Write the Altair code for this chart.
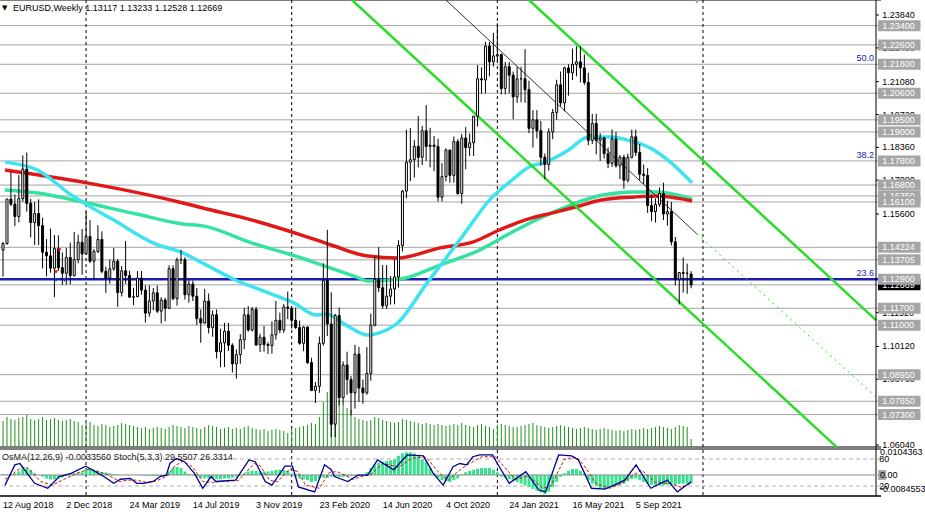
import altair as alt
import pandas as pd

FONT = "Liberation Sans"

# ---------------- weekly EURUSD candles (index 0 = week of 12 Aug 2018) ----------------
opens = [1.1411,1.1438,1.1622,1.1601,1.1550,1.1624,1.1746,1.1604,1.1525,1.1562,
         1.1512,1.1402,1.1387,1.1336,1.1417,1.1338,1.1315,1.1380,1.1305,1.1371,
         1.1443,1.1395,1.1467,1.1365,1.1405,1.1455,1.1323,1.1295,1.1333,1.1365,
         1.1235,1.1325,1.1305,1.1216,1.1218,1.1295,1.1245,1.1150,1.1200,1.1234,
         1.1158,1.1204,1.1170,1.1334,1.1210,1.1370,1.1371,1.1226,1.1270,1.1220,
         1.1127,1.1109,1.1200,1.1090,1.1143,1.0990,1.1027,1.1075,1.1017,1.0940,
         1.0978,1.1040,1.1143,1.1080,1.1165,1.1018,1.1050,1.1020,1.1016,1.1060,
         1.1120,1.1080,1.1175,1.1170,1.1120,1.1090,1.1025,1.1092,1.0945,1.0830,
         1.0847,1.1025,1.1285,1.1105,1.0690,1.1140,1.0800,1.0935,1.0875,1.0820,
         1.0980,1.0840,1.0820,1.0900,1.1100,1.1290,1.1255,1.1180,1.1220,1.1250,
         1.1300,1.1430,1.1655,1.1775,1.1785,1.1840,1.1795,1.1905,1.1840,1.1845,
         1.1840,1.1630,1.1715,1.1825,1.1720,1.1860,1.1645,1.1875,1.1835,1.1855,
         1.1965,1.2120,1.2115,1.2255,1.2190,1.2215,1.2220,1.2080,1.2170,1.2135,
         1.2045,1.2120,1.2120,1.2075,1.1915,1.1950,1.1905,1.1795,1.1765,1.1900,
         1.1980,1.2095,1.2020,1.2165,1.2145,1.2180,1.2190,1.2165,1.2105,1.1865,
         1.1935,1.1865,1.1875,1.1810,1.1770,1.1870,1.1760,1.1795,1.1700,1.1795,
         1.1880,1.1815,1.1725,1.1720,1.1595,1.1570,1.1600,1.1645,1.1560,1.1570,
         1.1445,1.1290,1.1318,1.1315,1.13117]
highs = [1.1444,1.1623,1.1734,1.1641,1.1721,1.1803,1.1815,1.1623,1.1610,1.1621,
         1.1545,1.1456,1.1500,1.1473,1.1472,1.1401,1.1420,1.1442,1.1486,1.1474,
         1.1498,1.1570,1.1535,1.1415,1.1514,1.1488,1.1342,1.1372,1.1420,1.1374,
         1.1345,1.1448,1.1325,1.1255,1.1324,1.1324,1.1265,1.1265,1.1254,1.1264,
         1.1216,1.1213,1.1348,1.1348,1.1380,1.1412,1.1381,1.1286,1.1285,1.1254,
         1.1165,1.1250,1.1231,1.1161,1.1165,1.1085,1.1110,1.1109,1.1025,1.1000,
         1.1063,1.1172,1.1179,1.1175,1.1176,1.1064,1.1097,1.1030,1.1116,1.1200,
         1.1152,1.1188,1.1239,1.1173,1.1173,1.1119,1.1096,1.1095,1.0965,1.0865,
         1.1053,1.1356,1.1495,1.1236,1.1147,1.1173,1.0950,1.0990,1.0889,1.1019,
         1.1010,1.0875,1.1009,1.1147,1.1384,1.1423,1.1349,1.1349,1.1303,1.1372,
         1.1452,1.1660,1.1909,1.1916,1.1866,1.1966,1.1925,1.2011,1.1917,1.1883,
         1.1872,1.1771,1.1832,1.1827,1.1881,1.1870,1.1892,1.1920,1.1894,1.1965,
         1.2177,1.2167,1.2273,1.2272,1.2310,1.2350,1.2225,1.2190,1.2190,1.2150,
         1.2170,1.2170,1.2243,1.2112,1.1990,1.1990,1.1945,1.1810,1.1915,1.1995,
         1.2116,1.2150,1.2170,1.2180,1.2245,1.2255,1.2255,1.2220,1.2145,1.1975,
         1.1975,1.1895,1.1880,1.1835,1.1910,1.1900,1.1805,1.1805,1.1810,1.1910,
         1.1910,1.1850,1.1765,1.1750,1.1640,1.1625,1.1670,1.1690,1.1615,1.1610,
         1.1465,1.1320,1.1380,1.1355,1.13233]
lows = [1.1301,1.1433,1.1593,1.1510,1.1526,1.1611,1.1570,1.1463,1.1432,1.1432,
        1.1335,1.1302,1.1317,1.1216,1.1325,1.1267,1.1268,1.1269,1.1302,1.1356,
        1.1309,1.1392,1.1357,1.1290,1.1398,1.1315,1.1234,1.1272,1.1325,1.1176,
        1.1219,1.1271,1.1213,1.1183,1.1216,1.1226,1.1111,1.1135,1.1162,1.1150,
        1.1107,1.1116,1.1167,1.1203,1.1181,1.1353,1.1206,1.1193,1.1200,1.1101,
        1.1027,1.1106,1.1066,1.1052,1.0962,1.0926,1.0927,1.0993,1.0904,1.0879,
        1.0940,1.1001,1.1073,1.1074,1.1014,1.0989,1.0990,1.0981,1.0982,1.1040,
        1.1067,1.1068,1.1125,1.1086,1.1085,1.1019,1.0992,1.0940,1.0827,1.0778,
        1.0820,1.1015,1.1055,1.0636,1.0637,1.0768,1.0770,1.0812,1.0727,1.0755,
        1.0782,1.0775,1.0812,1.0870,1.1095,1.1237,1.1168,1.1167,1.1185,1.1186,
        1.1255,1.1405,1.1625,1.1696,1.1711,1.1753,1.1763,1.1780,1.1753,1.1737,
        1.1612,1.1612,1.1695,1.1689,1.1690,1.1640,1.1603,1.1746,1.1800,1.1800,
        1.1922,1.2058,1.2060,1.2130,1.2170,1.2190,1.2055,1.2055,1.2060,1.1952,
        1.2020,1.2023,1.2020,1.1895,1.1835,1.1873,1.1760,1.1704,1.1740,1.1870,
        1.1950,1.2005,1.1985,1.2050,1.2115,1.2130,1.2105,1.2095,1.1845,1.1850,
        1.1807,1.1780,1.1790,1.1750,1.1755,1.1752,1.1705,1.1665,1.1690,1.1790,
        1.1800,1.1700,1.1685,1.1565,1.1530,1.1525,1.1590,1.1535,1.1512,1.1430,
        1.1265,1.1186,1.1235,1.1230,1.12528]
closes = [1.1438,1.1622,1.1601,1.1550,1.1624,1.1746,1.1604,1.1525,1.1562,1.1512,
          1.1402,1.1387,1.1336,1.1417,1.1338,1.1315,1.1380,1.1305,1.1371,1.1443,
          1.1395,1.1467,1.1365,1.1405,1.1455,1.1323,1.1295,1.1333,1.1365,1.1235,
          1.1325,1.1305,1.1216,1.1218,1.1295,1.1245,1.1150,1.1200,1.1234,1.1158,
          1.1204,1.1170,1.1334,1.1210,1.1370,1.1371,1.1226,1.1270,1.1220,1.1127,
          1.1109,1.1200,1.1090,1.1143,1.0990,1.1027,1.1075,1.1017,1.0940,1.0978,
          1.1040,1.1143,1.1080,1.1165,1.1018,1.1050,1.1020,1.1016,1.1060,1.1120,
          1.1080,1.1175,1.1170,1.1120,1.1090,1.1025,1.1092,1.0945,1.0830,1.0847,
          1.1025,1.1285,1.1105,1.0690,1.1140,1.0800,1.0935,1.0875,1.0820,1.0980,
          1.0840,1.0820,1.0900,1.1100,1.1290,1.1255,1.1180,1.1220,1.1250,1.1300,
          1.1430,1.1655,1.1775,1.1785,1.1840,1.1795,1.1905,1.1840,1.1845,1.1840,
          1.1630,1.1715,1.1825,1.1720,1.1860,1.1645,1.1875,1.1835,1.1855,1.1965,
          1.2120,1.2115,1.2255,1.2190,1.2215,1.2220,1.2080,1.2170,1.2135,1.2045,
          1.2120,1.2120,1.2075,1.1915,1.1950,1.1905,1.1795,1.1765,1.1900,1.1980,
          1.2095,1.2020,1.2165,1.2145,1.2180,1.2190,1.2165,1.2105,1.1865,1.1935,
          1.1865,1.1875,1.1810,1.1770,1.1870,1.1760,1.1795,1.1700,1.1795,1.1880,
          1.1815,1.1725,1.1720,1.1595,1.1570,1.1600,1.1645,1.1560,1.1570,1.1445,
          1.1290,1.1318,1.1315,1.1315,1.12669]
volumes = [260,300,280,270,290,300,320,280,270,280,300,270,280,290,270,260,270,280,260,250,220,
           240,250,220,210,230,220,200,210,220,240,230,220,210,200,190,200,180,190,200,190,
           180,200,220,210,200,190,210,200,190,180,200,220,210,200,180,190,200,180,190,180,
           200,210,190,180,170,180,160,170,180,170,160,140,
           180,190,200,210,220,240,230,300,450,
           550,520,520,470,420,390,370,
           300,280,270,260,270,300,290,270,260,250,240,250,
           280,270,260,250,240,230,240,230,220,230,220,210,220,230,220,240,220,210,200,220,230,210,200,180,
           220,230,220,210,200,200,210,220,230,240,220,210,200,190,200,210,220,210,200,190,
           180,190,200,190,180,170,180,190,180,170,160,170,160,170,180,170,180,190,180,190,
           200,210,200,190,180,200,220,210,200,80]
# OsMA(12,26,9) histogram, in units of 0.0001
osma = [3,3,3,6,14,24,28,21,7,0,
        -7,-14,-18,-18,-14,-10,-4,3,6,8,
        11,25,28,21,17,11,10,7,4,3,
        0,1,-1,0,1,-2,-4,-4,-4,-4,
        -4,-2,14,28,32,28,14,4,-3,-7,
        -11,-14,-14,-14,-17,-17,-14,-14,-11,-7,
        -2,4,14,17,17,14,14,14,17,20,
        21,21,17,6,-7,-14,-17,-21,-28,-25,
        -14,-11,-11,-7,-7,-8,-8,-6,-4,-3,
        -3,-1,11,28,42,49,53,56,59,63,
        77,87,91,91,87,77,63,53,28,7,
        -11,-21,-25,-28,-21,-14,4,11,17,21,
        25,28,28,28,21,11,-7,-11,-17,-21,
        -28,-35,-42,-49,-56,-63,-70,-77,-67,-49,
        -28,-7,7,17,24,24,17,7,-21,-35,
        -45,-53,-56,-53,-49,-45,-39,-35,-25,-17,
        -14,-21,-28,-35,-39,-42,-42,-42,-39,-38,
        -38,-36,-35,-34,-34]
week = list(range(len(closes)))

# Stochastic(5,3,3) main and signal lines (week index, value)
stoch_idx = [0.5,3,4.25,8,11.3,14.25,17.2,20.9,25.5,28,29.7,32.2,33.8,35.5,38,39.7,41.3,42.2,43.8,45.9,
             48.4,50.5,52.6,53.8,58.8,62.2,63.8,66.3,68,71.3,73.2,74.7,78.8,81.3,83,83.8,87.2,89.7,92.2,94.7,
             98.8,102.2,106.3,108.8,111.3,113.8,115.5,117.2,118.8,120.5,123.8,125,128,132.2,135.5,137.2,140.5,
             143.8,145.5,148.8,152.2,155.5,157.2,160.1,163.8,168,170.5,174]
stoch_val = [22,67,70,26,15,41,48,64,41,26,35,37,26,26,30,41,44,70,81,74,
             48,15,41,30,33,78,74,30,22,64,64,18,7,67,56,41,30,44,44,78,
             56,89,87,48,22,63,70,67,85,89,89,70,26,52,11,7,89,
             87,78,15,13,26,33,67,15,33,7,29.55]
signal_idx = [0.5,4.5,6,9.5,12.5,15.5,18.5,22,26.5,29.5,31.5,33.5,36.5,39,41.5,43.5,45.5,48,50.5,53,55,
              59.5,63.5,65,67.5,69.5,72.5,74.5,76.5,80,82.5,84.5,88.5,91,93,96,100,103.5,107,110,112.5,
              115,117,121,124.5,126.5,129.5,133,136.5,138.5,142,145,147,150,153.5,157,158.5,161.5,165,
              169,171.5,174]
signal_val = [35,60,62,30,22,35,48,58,45,30,33,33,28,32,42,65,75,62,30,28,30,
              32,70,65,32,30,58,52,22,15,50,52,35,42,45,70,62,82,84,52,32,
              52,65,85,85,65,35,42,15,20,80,84,65,25,15,28,40,55,28,
              25,17,26.33]

# moving averages (week index, price)
ma_red_idx = [0.5,21.25,45.5,50.5,63,75.5,83,92.25,99.75,110.5,118.75,125.5,130.5,133.75,138.75,144.75,151.25,159.75,165.5,170.5,174.25]
ma_red_val = [1.1742,1.1689,1.1606,1.1585,1.1535,1.1473,1.1432,1.1386,1.1378,1.1420,1.1444,1.1494,1.1527,1.1544,1.1564,1.1589,1.1618,1.1631,1.1635,1.1626,1.1614]
ma_teal_idx = [0.5,8.75,21.25,33.75,45.5,50.5,63,75.5,79.25,89.25,92.25,100.5,110.5,120.5,129.75,140.5,150.5,159.75,165.5,170.5,174.25]
ma_teal_val = [1.1660,1.1647,1.1606,1.1560,1.1519,1.1511,1.1440,1.1378,1.1357,1.1300,1.1283,1.1291,1.1349,1.1411,1.1494,1.1577,1.1635,1.1651,1.1651,1.1639,1.1622]
ma_cyan_idx = [0.5,8.75,17.25,21.25,28,38,45.5,50.5,58.75,67.25,73.5,79.25,81.75,86.75,92.25,95.5,99.75,107.25,115.5,123.75,128.75,133,137.25,143,148,153,159.75,163.75,168.75,174.25]
ma_cyan_val = [1.1775,1.1742,1.1639,1.1598,1.1535,1.1440,1.1399,1.1357,1.1287,1.1233,1.1192,1.1142,1.1146,1.1100,1.1059,1.1070,1.1109,1.1275,1.1453,1.1631,1.1701,1.1755,1.1775,1.1825,1.1879,1.1879,1.1858,1.1833,1.1775,1.1689]

# descending channel and trend line (endpoints)
chan_idx = [133, 220.75, 88.25, 210.75]
chan_val = [1.2446, 1.1121, 1.2446, 1.0596]
chan_grp = ["upper", "upper", "lower", "lower"]
trend_idx = [112.0, 175.5]
trend_val = [1.2446, 1.1477]
trend_ext_idx = [175.5, 220.75]
trend_ext_val = [1.1477, 1.0803]

# horizontal levels
level_prices = [1.2340,1.2260,1.2180,1.2060,1.1950,1.1900,1.1780,1.1680,1.1635,1.1610,1.14224,1.13705,1.1170,1.1100,1.0895,1.0785,1.0730]
box_prices = [1.2340,1.2260,1.2180,1.2060,1.1950,1.1900,1.1780,1.1680,1.1635,1.1610,1.14224,1.13705,1.1290,1.1170,1.1100,1.0895,1.0785,1.0730]
box_labels = ["1.23400","1.22600","1.21800","1.20600","1.19500","1.19000","1.17800","1.16800","1.16350","1.16100","1.14224","1.13705","1.12900","1.11700","1.11000","1.08950","1.07850","1.07300"]
key_level = [1.1290]
bid_price = [1.12669]
fib_prices = [1.2180, 1.1780, 1.1290]
fib_labels = ["50.0", "38.2", "23.6"]
axis_prices = [1.2384,1.2248,1.2108,1.1972,1.1836,1.1700,1.1560,1.1152,1.1012,1.0876,1.0604]
axis_labels = ["1.23840","1.22480","1.21080","1.19720","1.18360","1.17000","1.15600","1.11520","1.10120","1.08760","1.06040"]

date_idx = [0,16,32,48,64,80,96,112,128,144,160]
date_labels = ["12 Aug 2018","2 Dec 2018","24 Mar 2019","14 Jul 2019","3 Nov 2019","23 Feb 2020",
               "14 Jun 2020","4 Oct 2020","24 Jan 2021","16 May 2021","5 Sep 2021"]
year_sep_idx = [21, 73, 125, 177]

marker_idx = [14.25, 13.4, 13.4, 15.5]
marker_val = [1.1411, 1.1320, 1.1287, 1.1287]
marker_col = ["#e01010", "#e01010", "#1030d0", "#1030d0"]

# ---------------- scales ----------------
X_DOM = [0.5, 220.75]
P_DOM = [1.05957, 1.24461]
xs = alt.Scale(domain=X_DOM, nice=False, zero=False)
ps = alt.Scale(domain=P_DOM, range=[447, 0], nice=False, zero=False)
vs = alt.Scale(domain=[0, 4470], range=[447, 0], nice=False, zero=False)
ss = alt.Scale(domain=[-2.2, 102.2], range=[496, 449], nice=False, zero=False)
osc = alt.Scale(domain=[-84.55, 104.36], range=[496, 449], nice=False, zero=False)


def X(field):
    return alt.X(field, type="quantitative", scale=xs, axis=None)


def XD(v):
    return alt.XDatum(v, type="quantitative", scale=xs, axis=None)


def PY(field):
    return alt.Y(field, type="quantitative", scale=ps, axis=None)


def PD(v):
    return alt.YDatum(v, type="quantitative", scale=ps, axis=None)


one = pd.DataFrame({"a": [0]})
df = pd.DataFrame({"i": week, "o": opens, "h": highs, "l": lows, "c": closes,
                   "v": volumes, "osma": osma})
df["fillc"] = ["white" if c >= o else "black" for o, c in zip(opens, closes)]

layers = []

# frame pieces
layers.append(alt.Chart(one).mark_rule(color="black", strokeWidth=1).encode(y=PD(P_DOM[1])))
layers.append(alt.Chart(one).mark_rule(color="black", strokeWidth=1).encode(y=PD(P_DOM[0])))

# horizontal level lines
lv = pd.DataFrame({"p": level_prices})
layers.append(alt.Chart(lv).mark_rule(color="#a4a4a4", strokeWidth=1).encode(y=PY("p")))
layers.append(alt.Chart(pd.DataFrame({"p": bid_price})).mark_rule(color="#a4a4a4", strokeWidth=1).encode(y=PY("p")))

# year separators (span both panels)
layers.append(alt.Chart(pd.DataFrame({"i": year_sep_idx})).mark_rule(
    color="black", strokeWidth=1, strokeDash=[3, 3]).encode(x=X("i")))

# volumes
layers.append(alt.Chart(df).mark_rule(color="#1f8f1f", strokeWidth=1, clip=True).encode(
    x=X("i"), y=alt.Y("v:Q", scale=vs, axis=None), y2=alt.datum(0)))

# key blue level
layers.append(alt.Chart(pd.DataFrame({"p": key_level})).mark_rule(color="#1c1cb0", strokeWidth=2.5).encode(y=PY("p")))

# moving averages
for idx, val, col in [(ma_teal_idx, ma_teal_val, "#35e3a0"), (ma_red_idx, ma_red_val, "#e01818"),
                      (ma_cyan_idx, ma_cyan_val, "#3fe3f0")]:
    layers.append(alt.Chart(pd.DataFrame({"i": idx, "p": val})).mark_line(
        color=col, strokeWidth=3.5, interpolate="monotone", clip=True).encode(x=X("i"), y=PY("p")))

# channel
layers.append(alt.Chart(pd.DataFrame({"i": chan_idx, "p": chan_val, "g": chan_grp})).mark_line(
    color="#2bdc2b", strokeWidth=2.5, clip=True).encode(x=X("i"), y=PY("p"), detail="g:N"))
layers.append(alt.Chart(pd.DataFrame({"i": trend_idx, "p": trend_val})).mark_line(
    color="black", strokeWidth=0.8, clip=True).encode(x=X("i"), y=PY("p")))
layers.append(alt.Chart(pd.DataFrame({"i": trend_ext_idx, "p": trend_ext_val})).mark_line(
    color="#2bdc2b", strokeWidth=1, strokeDash=[2, 4], clip=True).encode(x=X("i"), y=PY("p")))

# candles
layers.append(alt.Chart(df).mark_rule(color="black", strokeWidth=1, clip=True).encode(
    x=X("i"), y=PY("l"), y2="h:Q"))
layers.append(alt.Chart(df).mark_bar(size=2, stroke="black", strokeWidth=1, clip=True).encode(
    x=X("i"), y=PY("o"), y2="c:Q", fill=alt.Fill("fillc:N", scale=None)))

# trade markers
layers.append(alt.Chart(pd.DataFrame({"i": marker_idx, "p": marker_val, "c": marker_col})).mark_point(
    shape="triangle-down", filled=True, size=18, opacity=1).encode(
    x=X("i"), y=PY("p"), color=alt.Color("c:N", scale=None)))

# fib labels
layers.append(alt.Chart(pd.DataFrame({"p": fib_prices, "t": fib_labels})).mark_text(
    align="right", baseline="bottom", dy=-1, font=FONT, fontSize=9, color="#2020c0").encode(
    x=XD(220.25), y=PY("p"), text="t:N"))

# right price axis: line, ticks, labels
layers.append(alt.Chart(one).mark_rule(color="black", strokeWidth=1).encode(x=XD(X_DOM[1])))
ax = pd.DataFrame({"p": axis_prices, "t": axis_labels})
layers.append(alt.Chart(ax).mark_rule(color="black", strokeWidth=1).encode(
    x=XD(X_DOM[1]), x2=alt.datum(221.5), y=PY("p")))
layers.append(alt.Chart(ax).mark_text(align="left", baseline="middle", font=FONT, fontSize=9,
                                      color="black").encode(x=XD(222.3), y=PY("p"), text="t:N"))
# current price box
layers.append(alt.Chart(pd.DataFrame({"p": bid_price})).mark_rect(
    color="black", yOffset=-5.5, y2Offset=5.5).encode(
    x=XD(221.25), x2=alt.datum(232), y=PY("p"), y2="p:Q"))
layers.append(alt.Chart(pd.DataFrame({"p": bid_price, "t": ["1.12669"]})).mark_text(
    align="left", baseline="middle", font=FONT, fontSize=9, color="white").encode(
    x=XD(222.3), y=PY("p"), text="t:N"))
# grey level boxes, drawn one by one from the top
for p, t in zip(box_prices, box_labels):
    d = pd.DataFrame({"p": [p], "t": [t]})
    layers.append(alt.Chart(d).mark_rect(color="#a6a6a6", yOffset=-5.5, y2Offset=5.5).encode(
        x=XD(221.25), x2=alt.datum(232), y=PY("p"), y2="p:Q"))
    layers.append(alt.Chart(d).mark_text(align="left", baseline="middle", font=FONT, fontSize=9,
                                         color="white").encode(x=XD(222.3), y=PY("p"), text="t:N"))

# title
layers.append(alt.Chart(one).mark_text(align="left", baseline="middle", font="DejaVu Sans", fontSize=7,
                                       color="black").encode(x=alt.value(2), y=alt.value(8), text=alt.value("▼")))
layers.append(alt.Chart(one).mark_text(align="left", baseline="middle", font=FONT, fontSize=9,
                                       color="black").encode(
    x=alt.value(13), y=alt.value(8), text=alt.value("EURUSD,Weekly  1.13117 1.13233 1.12528 1.12669")))
layers.append(alt.Chart(one).mark_point(shape="triangle-down", filled=True, size=30, color="#a0a0a0",
                                        opacity=1).encode(x=XD(175.5), y=PD(1.2440)))

# ---------------- lower panel: OsMA + Stochastic ----------------
layers.append(alt.Chart(one).mark_rule(color="black", strokeWidth=1).encode(
    y=alt.YDatum(102.2, type="quantitative", scale=ss, axis=None)))
layers.append(alt.Chart(one).mark_rule(color="black", strokeWidth=1.5).encode(
    y=alt.YDatum(-2.2, type="quantitative", scale=ss, axis=None)))
lvl = pd.DataFrame({"s": [80, 20]})
layers.append(alt.Chart(lvl).mark_rule(color="#b0b0b0", strokeWidth=1, strokeDash=[4, 3]).encode(
    y=alt.Y("s:Q", scale=ss, axis=None)))
layers.append(alt.Chart(df).mark_bar(size=3, color="#34e48c", clip=True).encode(
    x=X("i"), y=alt.Y("osma:Q", scale=osc, axis=None), y2=alt.datum(0)))
layers.append(alt.Chart(one).mark_rule(color="#8c8c8c", strokeWidth=1).encode(
    y=alt.YDatum(0, type="quantitative", scale=osc, axis=None)))
layers.append(alt.Chart(pd.DataFrame({"i": signal_idx, "s": signal_val})).mark_line(
    color="#d01010", strokeWidth=1, strokeDash=[3, 2], clip=True).encode(
    x=X("i"), y=alt.Y("s:Q", scale=ss, axis=None)))
layers.append(alt.Chart(pd.DataFrame({"i": stoch_idx, "s": stoch_val})).mark_line(
    color="#000090", strokeWidth=1.3, clip=True).encode(
    x=X("i"), y=alt.Y("s:Q", scale=ss, axis=None)))
layers.append(alt.Chart(one).mark_text(align="left", baseline="middle", font=FONT, fontSize=9,
                                       color="#202020").encode(
    x=alt.value(2), y=alt.value(457),
    text=alt.value("OsMA(12,26,9) -0.0033560  Stoch(5,3,3) 29.5507 26.3314")))
# lower panel right labels
layers.append(alt.Chart(one).mark_rect(color="#a6a6a6").encode(
    x=XD(221.3), x2=alt.datum(223.3),
    y=alt.YDatum(20, type="quantitative", scale=osc, axis=None), y2=alt.datum(-20)))
sl = pd.DataFrame({"s": [80, 20], "t": ["80", "20"]})
layers.append(alt.Chart(sl).mark_text(align="left", baseline="middle", font=FONT, fontSize=9,
                                      color="black").encode(
    x=XD(221.6), y=alt.Y("s:Q", scale=ss, axis=None), text="t:N"))
ol = pd.DataFrame({"v": [92, 0, -58], "t": ["0.0104363", "0.00", "-0.0084553"]})
layers.append(alt.Chart(ol).mark_text(align="left", baseline="middle", font=FONT, fontSize=9,
                                      color="black").encode(
    x=XD(221.75), y=alt.Y("v:Q", scale=osc, axis=None), text="t:N"))

# date labels under the lower panel
dl = pd.DataFrame({"i": date_idx, "t": date_labels})
layers.append(alt.Chart(dl).mark_text(align="left", baseline="middle", font=FONT, fontSize=9,
                                      color="black").encode(
    x=X("i"), y=alt.YDatum(-22.2, type="quantitative", scale=ss, axis=None), text="t:N"))

chart = alt.layer(*layers).resolve_scale(y="independent").properties(
    width=881, height=496,
    autosize=alt.AutoSizeParams(type="none"),
    padding={"left": 0, "top": 0, "right": 44, "bottom": 19},
).configure_view(stroke=None)

chart.save("out.html", embed_options={"renderer": "svg", "actions": False})
